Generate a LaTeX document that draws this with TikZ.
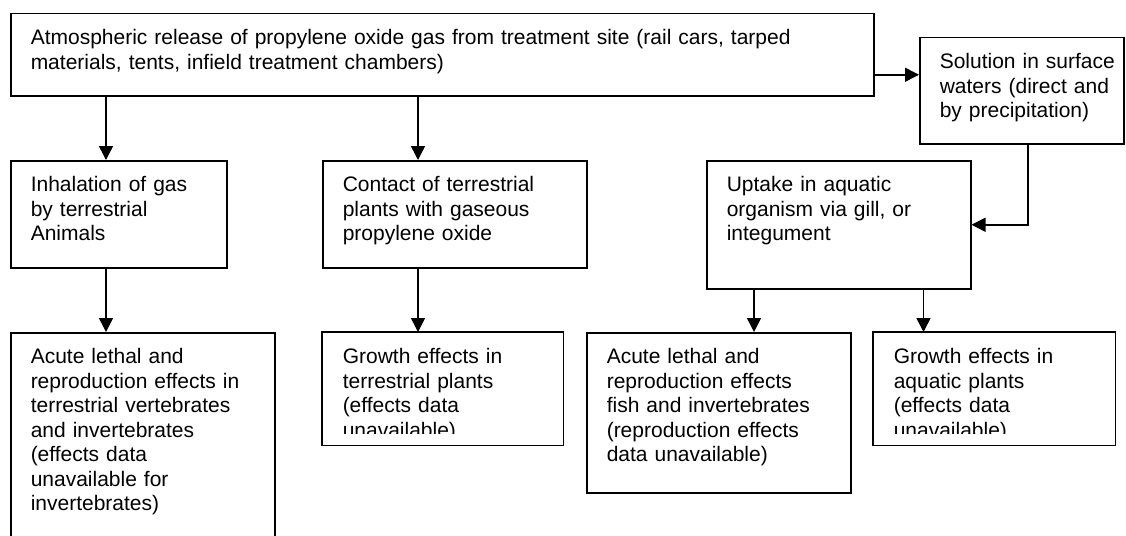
\documentclass[tikz,border=0pt]{standalone}
\usepackage{fontspec}
\setmainfont{Liberation Sans}
\usetikzlibrary{positioning,arrows.meta,calc}

\begin{document}
\begin{tikzpicture}[
  x=1pt, y=-1pt,
  stage/.style={draw, line width=1.5pt, anchor=north west, align=left,
                inner xsep=20pt, inner ysep=0pt, text height=31pt,
                font=\fontsize{21}{24.5}\selectfont},
  frame/.style={line width=1.5pt},
  flow/.style={-{Triangle[length=14pt,width=14pt]}, line width=1.5pt}
]
\useasboundingbox (0,0) rectangle (1126,535);

% release and the two exposure routes by air
\node[stage, text width=823pt, text depth=51pt] (src) at (10,13)
  {Atmospheric release of propylene oxide gas from treatment site (rail cars, tarped\\
   materials, tents, infield treatment chambers)};
\node[stage, text width=164pt, text depth=75pt] (water) at (919,37)
  {\mbox{Solution in surface}\\\mbox{waters (direct and}\\\mbox{by precipitation)}};
\node[stage, text width=176pt, text depth=76pt] (inhal) at (10,160)
  {Inhalation of gas\\by terrestrial\\Animals};
\node[stage, text width=224pt, text depth=76pt] (contact) at (322,160)
  {Contact of terrestrial\\plants with gaseous\\propylene oxide};
\node[stage, text width=224pt, text depth=97pt] (uptake) at (706,160)
  {Uptake in aquatic\\organism via gill, or\\integument};

% effects
\node[stage, text width=224pt, text depth=197pt] (acterr) at (10,332)
  {Acute lethal and\\reproduction effects in\\terrestrial vertebrates\\and invertebrates\\
   (effects data\\unavailable for\\invertebrates)};
\begin{scope}
  \clip (322,332) rectangle (562,433);
  \node[stage, draw=none, text width=200pt, text depth=81pt] (growterr) at (322,332)
    {Growth effects in\\terrestrial plants\\(effects data\\unavailable)};
\end{scope}
\draw[frame] (growterr.north west) rectangle (growterr.south east);
\node[stage, text width=224pt, text depth=129pt] (acaq) at (586,332)
  {Acute lethal and\\reproduction effects\\fish and invertebrates\\(reproduction effects\\
   data unavailable)};
\begin{scope}
  \clip (873,332) rectangle (1114,433);
  \node[stage, draw=none, text width=201pt, text depth=81pt] (growaq) at (873,332)
    {Growth effects in\\aquatic plants\\(effects data\\unavailable)};
\end{scope}
\draw[frame] (growaq.north west) rectangle (growaq.south east);

% connectors
\coordinate (src-out) at ($(src.east)+(0,20)$);
\coordinate (inhal-in) at ($(inhal.north west)+(96,0)$);
\coordinate (contact-in) at ($(contact.north west)+(96,0)$);
\coordinate (aq-l) at ($(uptake.south west)+(48,0)$);
\coordinate (aq-r) at ($(uptake.south east)+(-48,0)$);

\draw[flow] (src-out) -- (src-out -| water.west);
\draw[flow] (src.south -| inhal-in) -- (inhal-in);
\draw[flow] (src.south -| contact-in) -- (contact-in);
\draw[flow] ([xshift=6pt]water.south) |- (uptake.east);
\draw[flow] (inhal.south -| inhal-in) -- (acterr.north -| inhal-in);
\draw[flow] (contact.south -| contact-in) -- (growterr.north -| contact-in);
\draw[flow] (aq-l) -- (aq-l |- acaq.north);
\draw[flow] (aq-r) -- (aq-r |- growaq.north);
\end{tikzpicture}
\end{document}
